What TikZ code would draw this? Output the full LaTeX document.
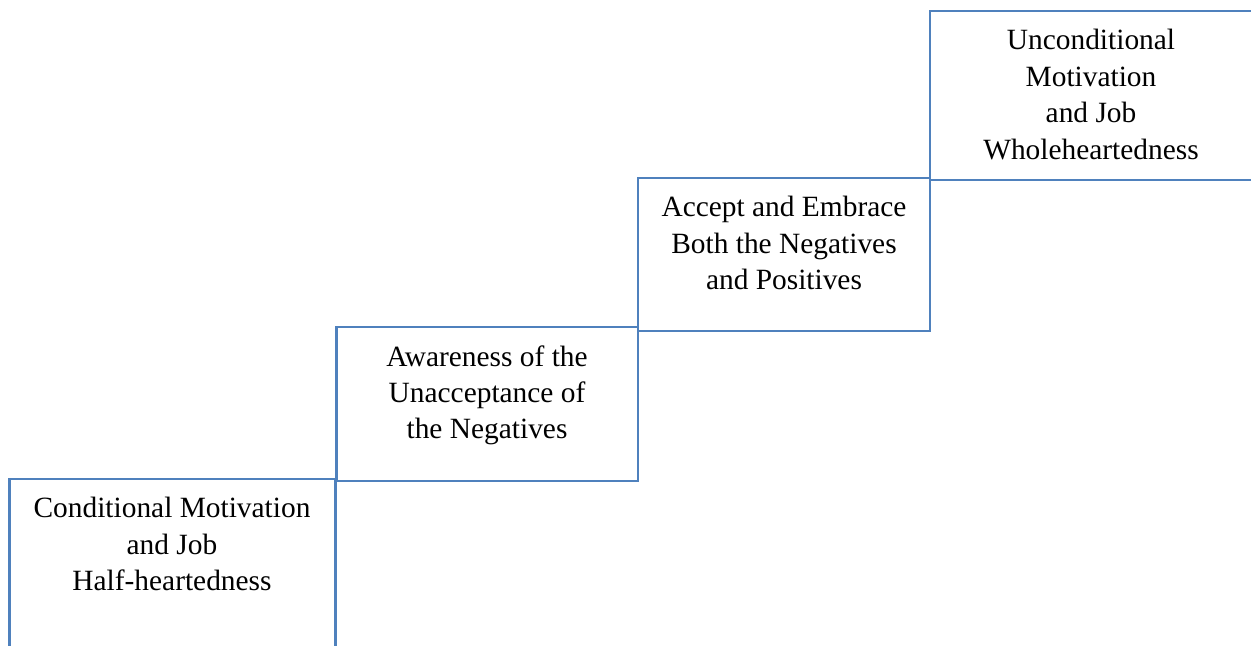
\documentclass[tikz,border=0pt]{standalone}
\usepackage{fontspec}
\setmainfont{Liberation Serif}
\definecolor{stepblue}{HTML}{4F81BD}
\begin{document}
\begin{tikzpicture}[x=0.5pt,y=-0.5pt,
  stepline/.style={draw=stepblue,line width=1.3pt,line join=miter},
  steptext/.style={anchor=north,inner sep=0pt,align=center,
    font=\fontsize{14.7}{18.2}\selectfont}]
\useasboundingbox (0,0) rectangle (1251,645);
% bottom step (open at the bottom)
\draw[stepline] (9.5,646) -- (9.5,479) -- (335.5,479) -- (335.5,646);
% second step
\draw[stepline] (336.5,327) rectangle (638,481);
% third step
\draw[stepline] (638,178) rectangle (930,331);
% top step (open at the right)
\draw[stepline] (1252,11) -- (930,11) -- (930,180) -- (1252,180);
% step labels
\node[steptext] (s1) at (172,497) {Conditional Motivation\\and Job\\Half-heartedness};
\node[steptext] (s2) at (487,345) {Awareness of the\\Unacceptance of\\the Negatives};
\node[steptext] (s3) at (784,196) {Accept and Embrace\\Both the Negatives\\and Positives};
\node[steptext] (s4) at (1091,29) {Unconditional\\Motivation\\and Job\\Wholeheartedness};
\end{tikzpicture}
\end{document}
